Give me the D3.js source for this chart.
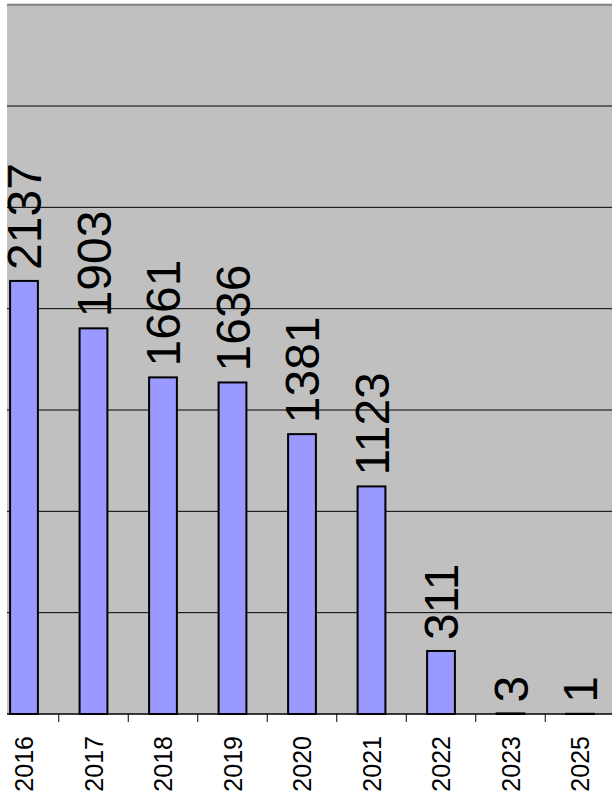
<!DOCTYPE html>
<html lang="en">
<head>
    <meta charset="UTF-8">
    <script src="https://cdn.jsdelivr.net/npm/d3@7"></script>
    <title>Counts by Year</title>
    <style>
        body { margin: 0; background: #fff; }
        svg { display: block; font-family: "Liberation Sans", Arial, sans-serif; }
    </style>
</head>
<body>
    <script>
        const w = 612;
        const h = 802;

        const years = ["2016", "2017", "2018", "2019", "2020", "2021", "2022", "2023", "2025"];
        const counts = [2137, 1903, 1661, 1636, 1381, 1123, 311, 3, 1];
        const gridValues = [0, 500, 1000, 1500, 2000, 2500, 3000, 3500];

        const plotLeft = 7;
        const plotRight = 612;

        const svg = d3.select("body")
                        .append("svg")
                        .attr("width", w)
                        .attr("height", h);

        // scales (left end of the category axis is cut off by the frame)
        const xCat = d3.scaleBand()
                        .domain(years)
                        .range([-10.75, 614.75])
                        .padding(0);

        const xBar = d3.scaleBand()
                        .domain(years)
                        .range([-10.75, 614.75])
                        .paddingInner(0.6)
                        .paddingOuter(0.3);

        const yScale = d3.scaleLinear()
                        .domain([0, 3500])
                        .range([714, 4.7]);

        //plot background
        svg.append("rect")
            .attr("x", plotLeft)
            .attr("y", yScale(3500))
            .attr("width", plotRight - plotLeft)
            .attr("height", yScale(0) - yScale(3500))
            .attr("fill", "#c0c0c0");

        //gridlines
        svg.append("g")
            .selectAll("line")
            .data(gridValues.slice(1, -1))
            .enter()
            .append("line")
            .attr("x1", plotLeft)
            .attr("x2", plotRight)
            .attr("y1", d => yScale(d))
            .attr("y2", d => yScale(d))
            .attr("stroke", "#000")
            .attr("stroke-width", 1);

        //top border
        svg.append("line")
            .attr("x1", plotLeft)
            .attr("x2", plotRight)
            .attr("y1", yScale(3500))
            .attr("y2", yScale(3500))
            .attr("stroke", "#808080")
            .attr("stroke-width", 2);

        //bars
        svg.selectAll(".bar")
            .data(counts)
            .enter()
            .append("rect")
            .attr("class", "bar")
            .attr("x", (d, i) => xBar(years[i]))
            .attr("y", d => yScale(d))
            .attr("width", xBar.bandwidth())
            .attr("height", d => yScale(0) - yScale(d))
            .attr("fill", "#9999ff")
            .attr("stroke", "#000")
            .attr("stroke-width", 2);

        //value labels
        svg.selectAll(".val")
            .data(counts)
            .enter()
            .append("text")
            .attr("class", "val")
            .attr("transform", (d, i) => "translate(" + (xBar(years[i]) + xBar.bandwidth() / 2) + "," + (yScale(d) - 11) + ") rotate(-90)")
            .attr("dy", "0.36em")
            .attr("text-anchor", "start")
            .style("font-size", "48px")
            .attr("fill", "#000")
            .text(d => d);

        //x axis baseline, ticks and labels
        svg.append("line")
            .attr("x1", plotLeft)
            .attr("x2", plotRight)
            .attr("y1", yScale(0))
            .attr("y2", yScale(0))
            .attr("stroke", "#000")
            .attr("stroke-width", 1.5);

        svg.append("g")
            .selectAll("line")
            .data(years)
            .enter()
            .append("line")
            .attr("x1", d => xCat(d))
            .attr("x2", d => xCat(d))
            .attr("y1", yScale(0))
            .attr("y2", yScale(0) + 8)
            .attr("stroke", "#000")
            .attr("stroke-width", 1);

        svg.append("g")
            .selectAll("text")
            .data(years)
            .enter()
            .append("text")
            .attr("transform", d => "translate(" + (xCat(d) + xCat.bandwidth() / 2) + "," + (yScale(0) + 22) + ") rotate(-90)")
            .attr("dy", "0.36em")
            .attr("text-anchor", "end")
            .style("font-size", "25px")
            .attr("fill", "#000")
            .text(d => d);
    </script>
</body>
</html>
